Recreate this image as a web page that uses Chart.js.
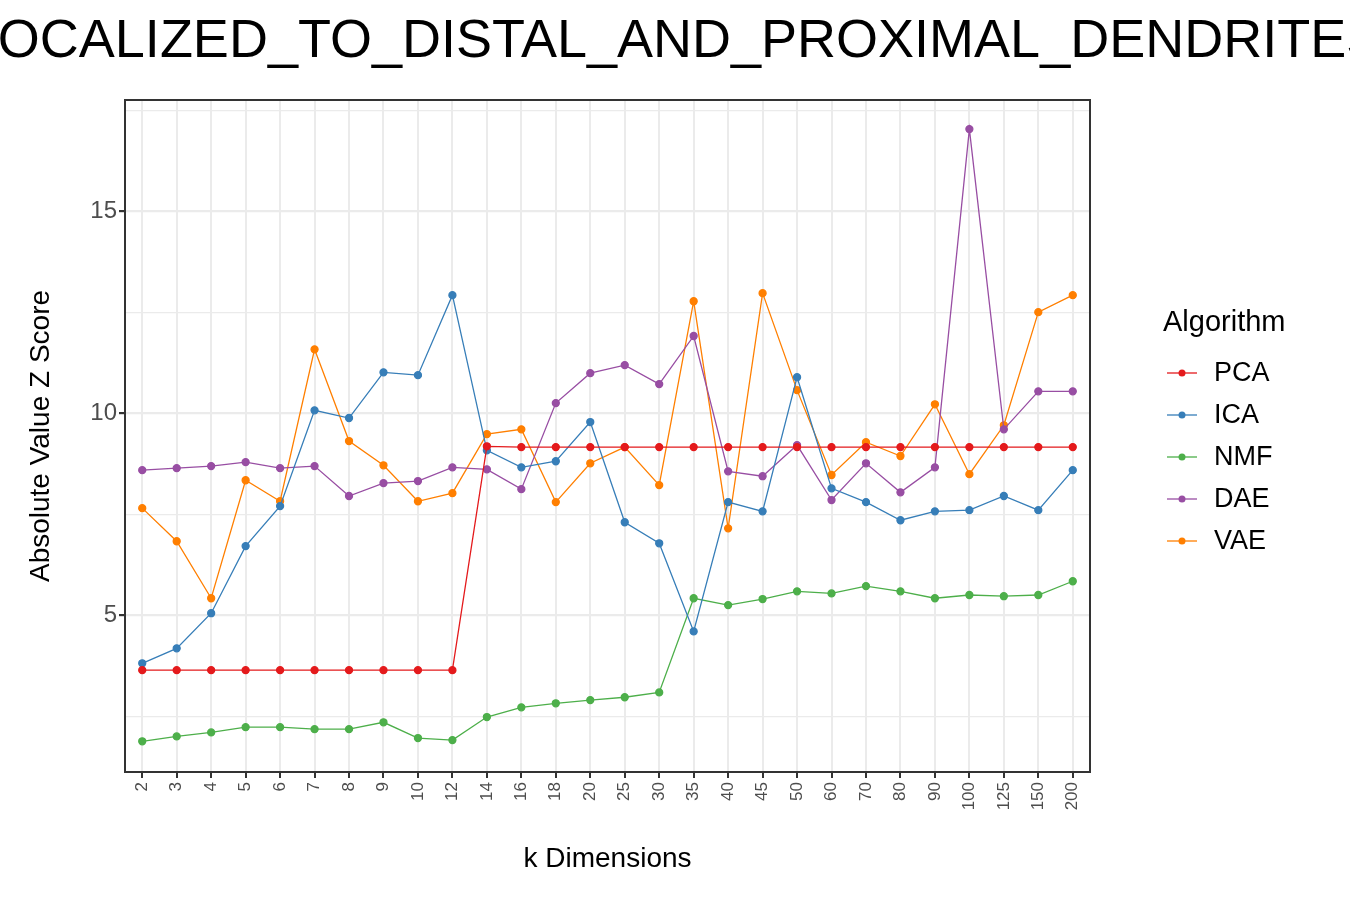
<!DOCTYPE html>
<html>
<head>
<meta charset="utf-8">
<script src="https://cdn.jsdelivr.net/npm/chart.js@4/dist/chart.umd.min.js"></script>
<style>
  body { margin: 0; background: #fff; }
  #wrap { width: 1350px; height: 900px; position: relative; }
</style>
</head>
<body>
<div id="wrap"><canvas id="chart"></canvas></div>
<script>
const titleText = 'LOCALIZED_TO_DISTAL_AND_PROXIMAL_DENDRITES';
const kDims = ['2','3','4','5','6','7','8','9','10','12','14','16','18','20','25','30','35','40','45','50','60','70','80','90','100','125','150','200'];
const pca = [3.64,3.64,3.64,3.64,3.64,3.64,3.64,3.64,3.64,3.64,9.18,9.16,9.16,9.16,9.16,9.16,9.16,9.16,9.16,9.16,9.16,9.16,9.16,9.16,9.16,9.16,9.16,9.16];
const ica = [3.81,4.18,5.05,6.71,7.70,10.07,9.88,11.01,10.94,12.92,9.08,8.66,8.81,9.78,7.30,6.78,4.60,7.80,7.57,10.89,8.14,7.80,7.35,7.57,7.60,7.95,7.60,8.59];
const nmf = [1.88,2.00,2.10,2.23,2.23,2.18,2.18,2.35,1.96,1.91,2.48,2.72,2.82,2.90,2.97,3.09,5.42,5.25,5.40,5.59,5.54,5.72,5.59,5.42,5.50,5.47,5.50,5.84];
const dae = [8.59,8.64,8.69,8.79,8.64,8.69,7.95,8.27,8.32,8.66,8.61,8.12,10.25,10.99,11.19,10.72,11.91,8.56,8.44,9.21,7.85,8.76,8.04,8.66,17.03,9.60,10.54,10.54];
const vae = [7.65,6.83,5.42,8.34,7.82,11.58,9.31,8.71,7.82,8.02,9.48,9.60,7.80,8.76,9.16,8.22,12.77,7.15,12.97,10.57,8.47,9.28,8.94,10.22,8.49,9.70,12.50,12.92];
const algNames = ['PCA','ICA','NMF','DAE','VAE'];
const algColors = ['#e41a1c','#377eb8','#4daf4a','#984ea3','#ff7f00'];
const yTicks = [2.5,5,7.5,10,12.5,15,17.5];

const series = [pca, ica, nmf, dae, vae];
const datasets = series.map((vals, i) => ({
    label: algNames[i],
    data: vals,
    borderColor: algColors[i],
    backgroundColor: algColors[i],
    borderWidth: 1.3,
    pointRadius: 3.5,
    pointHoverRadius: 3.5,
    fill: false,
    tension: 0
}));

// title and legend drawn by hand, ggplot style
const extras = {
    id: 'extras',
    afterDraw(chart) {
        const c = chart.ctx;
        const a = chart.chartArea;
        c.save();
        c.fillStyle = '#000';
        c.font = '54px "Liberation Sans", Arial, sans-serif';
        c.textAlign = 'center';
        c.textBaseline = 'middle';
        c.fillText(titleText, 675, 42);
        // panel border
        c.strokeStyle = '#333';
        c.lineWidth = 2;
        c.strokeRect(a.left, a.top, a.right - a.left, a.bottom - a.top);
        // legend
        c.textAlign = 'left';
        c.font = '29px "Liberation Sans", Arial, sans-serif';
        c.fillText('Algorithm', 1163, 323);
        c.font = '27px "Liberation Sans", Arial, sans-serif';
        algNames.forEach((n, i) => {
            const y = 373 + i * 42;
            c.strokeStyle = algColors[i];
            c.lineWidth = 1.3;
            c.beginPath(); c.moveTo(1167, y); c.lineTo(1197, y); c.stroke();
            c.fillStyle = algColors[i];
            c.beginPath(); c.arc(1182, y, 3.5, 0, Math.PI * 2); c.fill();
            c.fillStyle = '#000';
            c.fillText(n, 1214, y + 1);
        });
        c.restore();
    }
};

new Chart(document.getElementById('chart'), {
    type: 'line',
    data: { labels: kDims, datasets },
    plugins: [extras],
    options: {
        responsive: true,
        maintainAspectRatio: false,
        animation: false,
        layout: { padding: { top: 100, left: 20, right: 260, bottom: 20 } },
        plugins: { legend: { display: false }, tooltip: { enabled: false } },
        scales: {
            x: {
                offset: true,
                afterFit(s) { s.height = 108; },
                grid: {
                    color: '#ebebeb', lineWidth: 2, offset: false,
                    drawTicks: true, tickColor: '#333', tickLength: 6
                },
                border: { display: false },
                ticks: {
                    color: '#4d4d4d', font: { size: 17, family: '"Liberation Sans", Arial' },
                    minRotation: 90, maxRotation: 90, autoSkip: false, padding: 4
                },
                title: {
                    display: true, text: 'k Dimensions', color: '#000',
                    font: { size: 28, family: '"Liberation Sans", Arial' }, padding: { top: 0 }
                }
            },
            y: {
                min: 1.12,
                max: 17.75,
                afterFit(s) { s.width = 105; },
                afterBuildTicks(s) { s.ticks = yTicks.map(v => ({ value: v })); },
                grid: {
                    color: '#ebebeb',
                    lineWidth: ctx => (ctx.tick && ctx.tick.value % 5 === 0 ? 2.2 : 1.2),
                    tickColor: ctx => (ctx.tick && ctx.tick.value % 5 === 0 ? '#333' : 'rgba(0,0,0,0)'),
                    tickLength: 6
                },
                border: { display: false },
                ticks: {
                    color: '#4d4d4d', font: { size: 24, family: '"Liberation Sans", Arial' },
                    callback: v => (v % 5 === 0 ? v : ''), padding: 2
                },
                title: {
                    display: true, text: 'Absolute Value Z Score', color: '#000',
                    font: { size: 28, family: '"Liberation Sans", Arial' }, padding: { bottom: 0 }
                }
            }
        }
    }
});
</script>
</body>
</html>
